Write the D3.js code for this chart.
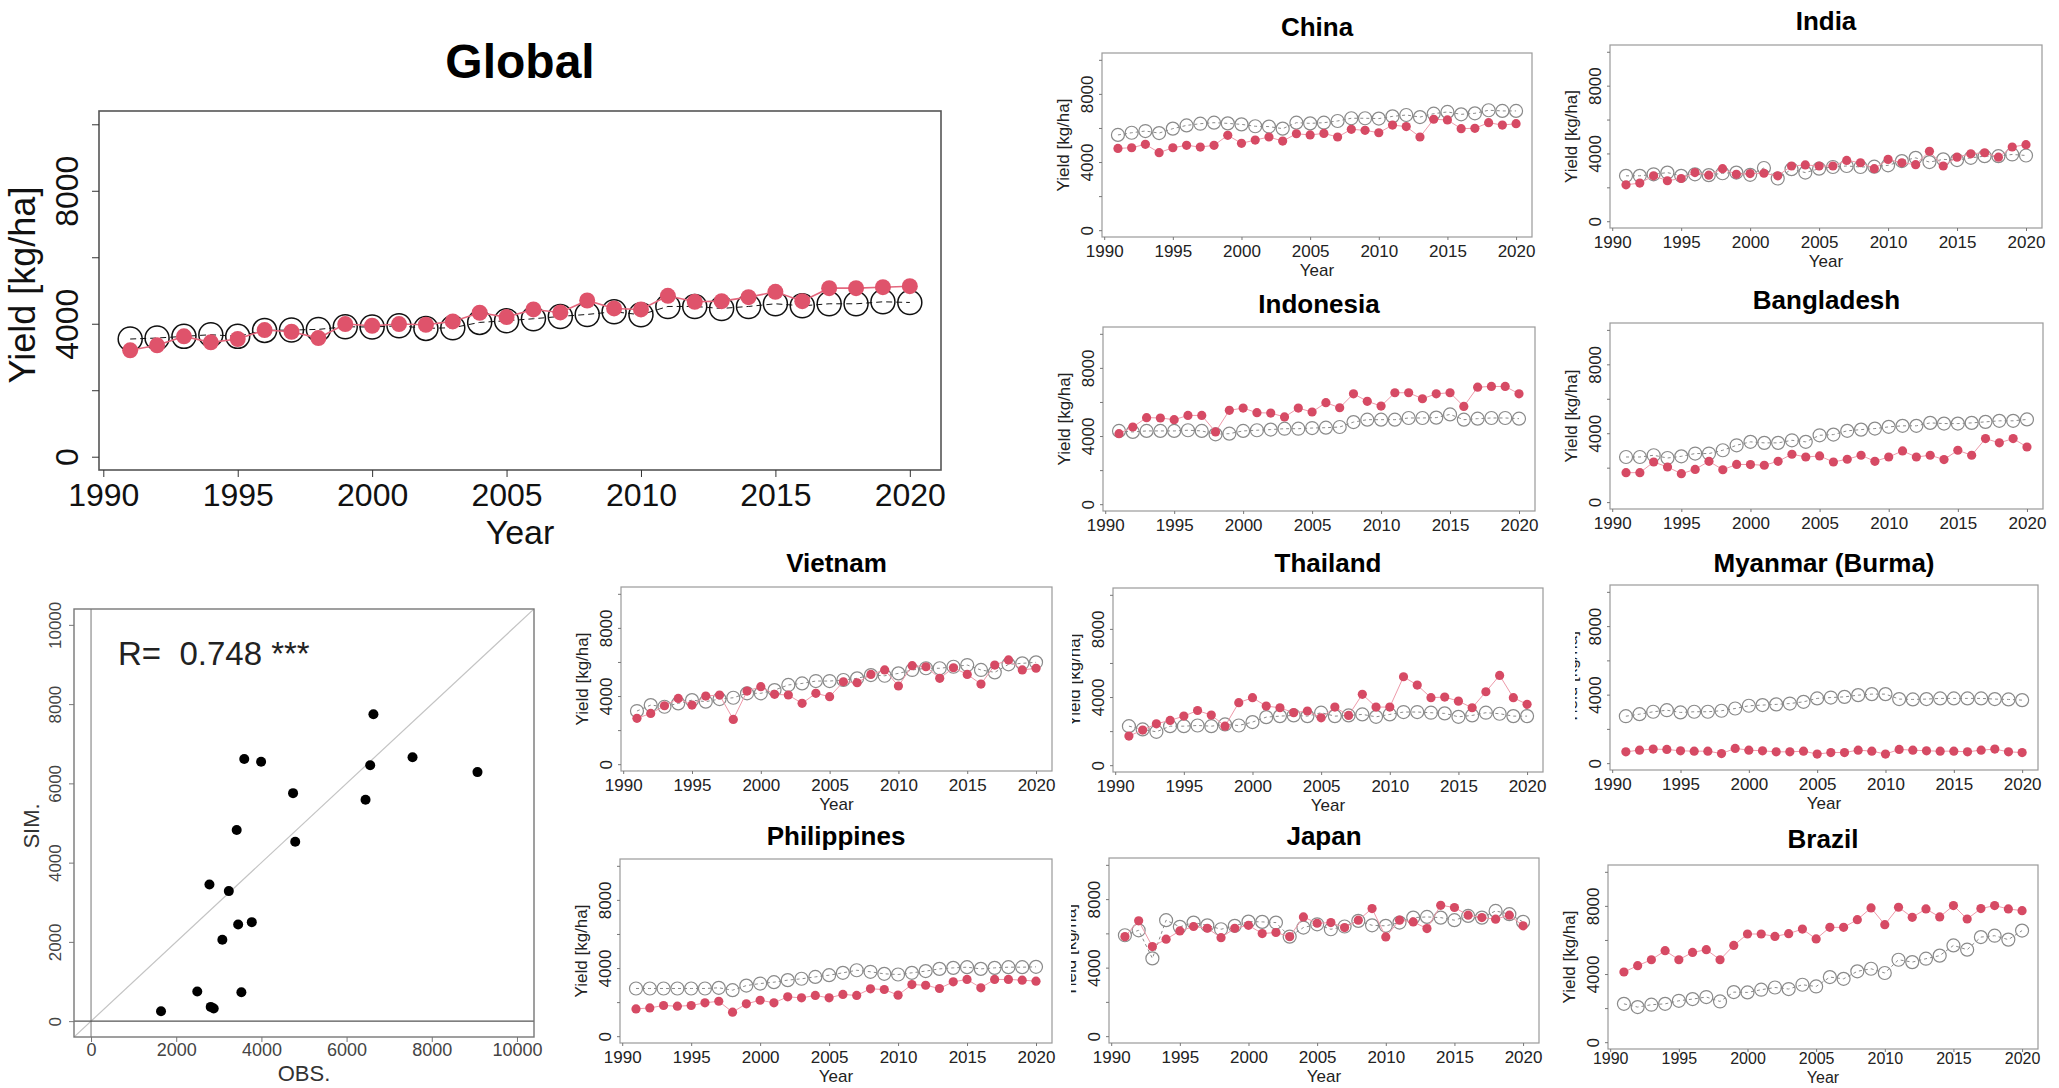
<!DOCTYPE html>
<html>
<head>
<meta charset="utf-8">
<script src="https://cdn.jsdelivr.net/npm/d3@7"></script>
<style>
  html, body { margin: 0; padding: 0; background: #fff; }
  svg text { font-family: "Liberation Sans", Arial, Helvetica, sans-serif; }
</style>
</head>
<body>
<svg id="fig" width="2059" height="1088"></svg>
<script>
// ---- data -------------------------------------------------------------
const years = [1991,1992,1993,1994,1995,1996,1997,1998,1999,2000,
               2001,2002,2003,2004,2005,2006,2007,2008,2009,2010,
               2011,2012,2013,2014,2015,2016,2017,2018,2019,2020];

const xTickValues = [1990, 1995, 2000, 2005, 2010, 2015, 2020];
const yTickValues = [0, 2000, 4000, 6000, 8000, 10000];
const yTickLabels = [0, 4000, 8000];
const scatterTicks = [0, 2000, 4000, 6000, 8000, 10000];

// simulated (filled) and observed (open) yields, kg/ha
const globalSim = [3200,3350,3620,3440,3540,3810,3760,3570,3990,3940,3990,3970,4070,4330,4200,4430,4340,4700,4460,4430,4840,4660,4680,4800,4960,4680,5070,5070,5100,5130];
const globalObs = [3540,3570,3620,3670,3620,3800,3810,3830,3910,3900,3940,3860,3880,4040,4090,4150,4220,4280,4360,4270,4520,4520,4460,4520,4600,4540,4600,4600,4660,4640];

const chinaSim = [4800,4840,5040,4550,4840,4980,4880,4980,5570,5100,5290,5470,5230,5660,5590,5680,5470,5920,5860,5720,6170,6080,5470,6510,6470,5960,5980,6310,6170,6250];
const chinaObs = [5590,5720,5820,5700,5960,6150,6250,6310,6270,6210,6100,6080,5960,6310,6270,6310,6410,6570,6570,6550,6680,6760,6640,6840,6940,6800,6860,7040,7000,7000];

const indiaSim = [2150,2250,2680,2390,2520,2870,2720,3100,2770,2810,2830,2680,3260,3320,3260,3260,3590,3450,3100,3650,3450,3340,4130,3260,3780,3980,4040,3780,4380,4520];
const indiaObs = [2680,2680,2770,2870,2680,2770,2720,2830,2870,2740,3140,2520,3070,2870,3100,3200,3260,3200,3220,3300,3550,3740,3490,3650,3610,3740,3840,3840,3940,3880];

const indonesiaSim = [4140,4530,5080,5060,4960,5210,5210,4240,5510,5640,5370,5350,5120,5640,5410,5960,5660,6480,6040,5760,6540,6540,6190,6480,6540,5740,6870,6910,6910,6480];
const indonesiaObs = [4300,4240,4300,4300,4300,4340,4300,4100,4140,4300,4340,4380,4430,4430,4470,4490,4530,4820,4960,4960,4960,5060,5060,5080,5270,4960,5020,5060,5060,5020];

const bangladeshSim = [1710,1710,2330,2040,1650,1900,2370,1880,2190,2180,2140,2370,2780,2620,2680,2330,2490,2720,2370,2620,2970,2620,2720,2470,3010,2720,3690,3440,3690,3200];
const bangladeshObs = [2620,2620,2720,2560,2660,2820,2820,3010,3300,3500,3440,3440,3590,3500,3880,3920,4140,4210,4270,4370,4430,4430,4600,4560,4560,4600,4660,4720,4720,4800];

const vietnamSim = [2690,2980,3430,3860,3470,4000,4060,2630,4290,4550,4100,4060,3570,4160,3960,4840,4780,5270,5530,4590,5780,5720,5040,5660,5270,4700,5820,6120,5530,5630];
const vietnamObs = [3120,3470,3370,3570,3760,3670,3820,3900,4160,4160,4350,4650,4740,4880,4880,4940,5040,5230,5190,5330,5530,5630,5630,5720,5820,5530,5390,5860,5920,5980];

const thailandSim = [1710,2060,2430,2630,2880,3210,2940,2290,3670,3960,3470,3370,3080,3180,2780,3410,2920,4160,3410,3410,5190,4700,3960,4000,3760,3370,4310,5270,3960,3570];
const thailandObs = [2290,2100,1960,2290,2290,2330,2290,2390,2330,2530,2820,2880,2920,2880,3080,2880,2920,2980,2840,2980,3120,3120,3080,3040,2840,2920,3080,3020,2880,2880];

const myanmarSim = [660,760,820,800,720,700,700,560,860,760,720,660,660,700,530,620,620,760,700,530,800,760,720,700,700,660,760,820,660,620];
const myanmarObs = [2740,2860,3000,3090,2960,3000,3000,3060,3190,3350,3390,3430,3480,3580,3780,3830,3870,3970,4030,4030,3740,3720,3740,3780,3780,3780,3780,3740,3720,3680];

const philippinesSim = [1600,1660,1800,1760,1800,1960,2050,1410,1900,2110,1960,2310,2250,2390,2250,2450,2390,2780,2740,2410,3030,2990,2800,3190,3330,2840,3330,3330,3290,3230];
const philippinesObs = [2800,2800,2800,2800,2800,2800,2840,2700,2970,3090,3170,3290,3370,3480,3580,3720,3870,3780,3660,3620,3720,3820,3950,4010,4050,3950,4010,4050,4050,4070];

const japanSim = [5810,6730,5230,5660,6140,6400,6300,5750,6300,6470,5990,6050,5810,6960,6590,6630,6340,6770,7450,5790,6770,6670,6280,7640,7510,7060,6920,6830,7060,6440];
const japanObs = [5890,6180,4540,6770,6380,6630,6470,6240,6440,6690,6670,6630,5810,6340,6530,6240,6400,6730,6470,6440,6630,6920,6960,6920,6770,7020,6920,7310,7120,6670];

const brazilSim = [4120,4490,4840,5370,4840,5270,5430,4840,5680,6350,6350,6210,6370,6640,6060,6740,6740,7190,7880,6900,7920,7330,7820,7350,8020,7230,7840,8020,7820,7720];
const brazilObs = [2250,2060,2200,2250,2430,2530,2650,2390,2940,2920,3080,3210,3120,3370,3270,3820,3720,4160,4310,4060,4840,4700,4900,5080,5680,5430,6170,6250,6020,6550];

// country-mean yields: observed vs simulated
const scatterObs = [1643,2494,2810,2880,3530,2780,3235,3083,3454,3774,3420,3597,3993,4743,4794,6445,6554,6630,7548,9073];
const scatterSim = [252,748,360,320,731,3446,3281,2054,2437,2498,4822,6614,6545,5753,4526,5587,6458,7746,6658,6284];
const correlationText = "R=  0.748 ***";

// ---- drawing ------------------------------------------------------------
const svg = d3.select("#fig");
svg.append("rect").attr("width", 2059).attr("height", 1088).attr("fill", "#fff");

const xDomain = [1989.84, 2021.16];   // data range padded by 4 %
const yDomain = [-400, 10400];

const bigStyle = {
  boxColor: "#555", boxWidth: 1.6, tickColor: "#333", tick: 7,
  tickFont: 32, xLabOff: 36, yLabOff: 21, labFont: 34, yearOff: 74, ylabOff: 64,
  titleFont: 48, obsR: 12, obsStroke: "#111", obsWidth: 1.5, obsDash: "6,4",
  simR: 8, simFill: "#DF536B", simLine: "#E4677D", simLineW: 1.6, textColor: "#111"
};
const smallStyle = {
  boxColor: "#9a9a9a", boxWidth: 1.2, tickColor: "#777", tick: 3,
  tickFont: 17, xLabOff: 20, yLabOff: 9, labFont: 17, yearOff: 39, ylabOff: 33,
  titleFont: 26, obsR: 6.5, obsStroke: "#8a8a8a", obsWidth: 1.2, obsDash: "3,3",
  simR: 4.6, simFill: "#D64A64", simLine: "#EE9AAA", simLineW: 1, textColor: "#222"
};

function drawTimePanel(p, s) {
  const g = svg.append("g");
  const x = d3.scaleLinear().domain(xDomain).range([p.x0, p.x1]);
  const y = d3.scaleLinear().domain(yDomain).range([p.y1, p.y0]);
  const xLabOff = p.xLabOff || s.xLabOff;
  const xTickFont = p.xTickFont || s.tickFont;

  // plot frame
  g.append("rect")
    .attr("x", p.x0).attr("y", p.y0)
    .attr("width", p.x1 - p.x0).attr("height", p.y1 - p.y0)
    .attr("fill", "none").attr("stroke", s.boxColor).attr("stroke-width", s.boxWidth);

  // y axis with rotated labels
  const ya = g.append("g").attr("transform", `translate(${p.x0},0)`)
    .call(d3.axisLeft(y).tickValues(yTickValues).tickSize(s.tick).tickSizeOuter(0)
      .tickFormat(v => yTickLabels.includes(v) ? String(v) : ""));
  ya.select(".domain").remove();
  ya.selectAll(".tick line").attr("stroke", s.tickColor).attr("stroke-width", 1);
  ya.selectAll(".tick text")
    .attr("transform", "rotate(-90)")
    .attr("x", 0).attr("y", -s.yLabOff).attr("dy", 0)
    .attr("text-anchor", "middle")
    .attr("font-size", s.tickFont).attr("fill", s.textColor);

  // x axis
  const xa = g.append("g").attr("transform", `translate(0,${p.y1})`)
    .call(d3.axisBottom(x).tickValues(xTickValues).tickSize(s.tick).tickSizeOuter(0)
      .tickFormat(d3.format("d")));
  xa.select(".domain").remove();
  xa.selectAll(".tick line").attr("stroke", s.tickColor).attr("stroke-width", 1);
  xa.selectAll(".tick text")
    .attr("y", xLabOff).attr("dy", 0)
    .attr("font-size", xTickFont).attr("fill", s.textColor);

  // axis titles
  if (!p.noXlab) {
    g.append("text").attr("x", (p.x0 + p.x1) / 2).attr("y", p.yearY || (p.y1 + s.yearOff))
      .attr("text-anchor", "middle").attr("font-size", p.yearFont || s.labFont).attr("fill", s.textColor)
      .text("Year");
  }
  let ylabParent = g;
  if (p.ylabClip) {
    const id = "clip-" + p.name.replace(/[^A-Za-z]/g, "");
    svg.append("clipPath").attr("id", id).append("rect")
      .attr("x", p.ylabClip).attr("y", p.y0 - 20).attr("width", 200).attr("height", p.y1 - p.y0 + 40);
    ylabParent = g.append("g").attr("clip-path", `url(#${id})`);
  }
  ylabParent.append("text")
    .attr("transform", `translate(${p.x0 - s.ylabOff},${p.ylabY || (p.y0 + p.y1) / 2}) rotate(-90)`)
    .attr("text-anchor", "middle").attr("font-size", p.ylabFont || s.labFont).attr("fill", s.textColor)
    .text("Yield [kg/ha]");

  // title
  g.append("text").attr("x", (p.x0 + p.x1) / 2).attr("y", p.titleY)
    .attr("text-anchor", "middle").attr("font-size", s.titleFont)
    .attr("font-weight", "bold").attr("fill", "#000")
    .text(p.name);

  const obsPts = years.map((yr, i) => ({ yr, v: p.obs[i] }));
  const simPts = years.map((yr, i) => ({ yr, v: p.sim[i] }));
  const line = d3.line().x(d => x(d.yr)).y(d => y(d.v));

  // observed: dashed line + open circles
  g.append("path").datum(obsPts).attr("d", line)
    .attr("fill", "none").attr("stroke", s.obsStroke)
    .attr("stroke-width", 1).attr("stroke-dasharray", s.obsDash);
  g.append("g").selectAll("circle").data(obsPts).join("circle")
    .attr("cx", d => x(d.yr)).attr("cy", d => y(d.v)).attr("r", s.obsR)
    .attr("fill", "none").attr("stroke", s.obsStroke).attr("stroke-width", s.obsWidth);

  // simulated: solid line + filled dots
  g.append("path").datum(simPts).attr("d", line)
    .attr("fill", "none").attr("stroke", s.simLine).attr("stroke-width", s.simLineW);
  g.append("g").selectAll("circle").data(simPts).join("circle")
    .attr("cx", d => x(d.yr)).attr("cy", d => y(d.v)).attr("r", s.simR)
    .attr("fill", s.simFill);
}

// global panel
drawTimePanel({ name: "Global", sim: globalSim, obs: globalObs,
  x0: 99, x1: 941, y0: 111, y1: 470, titleY: 78, ylabY: 285, ylabFont: 36 }, bigStyle);

// country panels
const countryPanels = [
  { name: "China",       sim: chinaSim,       obs: chinaObs,       x0: 1102, x1: 1532, y0: 53,  y1: 237,  titleY: 36 },
  { name: "India",       sim: indiaSim,       obs: indiaObs,       x0: 1610, x1: 2042, y0: 45,  y1: 228,  titleY: 30 },
  { name: "Indonesia",   sim: indonesiaSim,   obs: indonesiaObs,   x0: 1103, x1: 1535, y0: 327, y1: 511,  titleY: 313, noXlab: true },
  { name: "Bangladesh",  sim: bangladeshSim,  obs: bangladeshObs,  x0: 1610, x1: 2043, y0: 323, y1: 509,  titleY: 309, noXlab: true },
  { name: "Vietnam",     sim: vietnamSim,     obs: vietnamObs,     x0: 621,  x1: 1052, y0: 587, y1: 771,  titleY: 572 },
  { name: "Thailand",    sim: thailandSim,    obs: thailandObs,    x0: 1113, x1: 1543, y0: 588, y1: 772,  titleY: 572, ylabClip: 1072 },
  { name: "Myanmar (Burma)", sim: myanmarSim, obs: myanmarObs,     x0: 1610, x1: 2038, y0: 585, y1: 770,  titleY: 572, ylabClip: 1575 },
  { name: "Philippines", sim: philippinesSim, obs: philippinesObs, x0: 620,  x1: 1052, y0: 859, y1: 1043, titleY: 845 },
  { name: "Japan",       sim: japanSim,       obs: japanObs,       x0: 1109, x1: 1539, y0: 858, y1: 1043, titleY: 845, ylabClip: 1071 },
  { name: "Brazil",      sim: brazilSim,      obs: brazilObs,      x0: 1608, x1: 2038, y0: 865, y1: 1049, titleY: 848,
    xLabOff: 15, xTickFont: 16, yearY: 1083, yearFont: 16 }
];
countryPanels.forEach(p => drawTimePanel(p, smallStyle));

// ---- scatter: observed vs simulated country means ----
(function drawScatter() {
  const b = { x0: 74, x1: 534, y0: 609, y1: 1037 };
  const g = svg.append("g");
  const xs = d3.scaleLinear().domain(yDomain).range([b.x0, b.x1]);
  const ys = d3.scaleLinear().domain(yDomain).range([b.y1, b.y0]);

  g.append("clipPath").attr("id", "scatter-clip").append("rect")
    .attr("x", b.x0).attr("y", b.y0).attr("width", b.x1 - b.x0).attr("height", b.y1 - b.y0);
  const inner = g.append("g").attr("clip-path", "url(#scatter-clip)");

  // reference lines: 1:1, x = 0, y = 0
  inner.append("line")
    .attr("x1", xs(yDomain[0])).attr("y1", ys(yDomain[0]))
    .attr("x2", xs(yDomain[1])).attr("y2", ys(yDomain[1]))
    .attr("stroke", "#c4c4c4").attr("stroke-width", 1.2);
  inner.append("line").attr("x1", xs(0)).attr("x2", xs(0)).attr("y1", b.y0).attr("y2", b.y1)
    .attr("stroke", "#8c8c8c").attr("stroke-width", 1.2);
  inner.append("line").attr("y1", ys(0)).attr("y2", ys(0)).attr("x1", b.x0).attr("x2", b.x1)
    .attr("stroke", "#555").attr("stroke-width", 1.2);

  g.append("rect").attr("x", b.x0).attr("y", b.y0)
    .attr("width", b.x1 - b.x0).attr("height", b.y1 - b.y0)
    .attr("fill", "none").attr("stroke", "#777").attr("stroke-width", 1.4);

  const xa = g.append("g").attr("transform", `translate(0,${b.y1})`)
    .call(d3.axisBottom(xs).tickValues(scatterTicks).tickSize(5).tickSizeOuter(0).tickFormat(d3.format("d")));
  xa.select(".domain").remove();
  xa.selectAll(".tick line").attr("stroke", "#777");
  xa.selectAll(".tick text").attr("y", 19).attr("dy", 0)
    .attr("font-size", 18).attr("fill", "#444");

  const ya = g.append("g").attr("transform", `translate(${b.x0},0)`)
    .call(d3.axisLeft(ys).tickValues(scatterTicks).tickSize(5).tickSizeOuter(0).tickFormat(d3.format("d")));
  ya.select(".domain").remove();
  ya.selectAll(".tick line").attr("stroke", "#777");
  ya.selectAll(".tick text")
    .attr("transform", "rotate(-90)").attr("x", 0).attr("y", -13).attr("dy", 0)
    .attr("text-anchor", "middle").attr("font-size", 17).attr("fill", "#444");

  g.append("text").attr("x", (b.x0 + b.x1) / 2).attr("y", 1081)
    .attr("text-anchor", "middle").attr("font-size", 22).attr("fill", "#333").text("OBS.");
  g.append("text").attr("transform", `translate(39,826) rotate(-90)`)
    .attr("text-anchor", "middle").attr("font-size", 22).attr("fill", "#333").text("SIM.");

  g.append("text").attr("x", 118).attr("y", 665)
    .attr("font-size", 33).attr("fill", "#222")
    .attr("xml:space", "preserve").style("white-space", "pre")
    .text(correlationText);

  const pts = scatterObs.map((o, i) => ({ o, s: scatterSim[i] }));
  g.append("g").selectAll("circle").data(pts).join("circle")
    .attr("cx", d => xs(d.o)).attr("cy", d => ys(d.s)).attr("r", 5)
    .attr("fill", "#000");
})();
</script>
</body>
</html>
